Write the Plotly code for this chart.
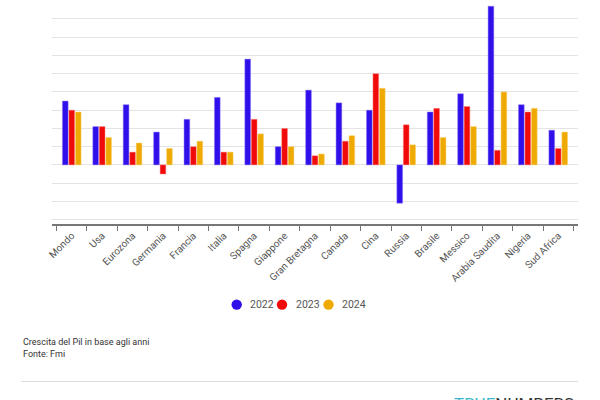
import plotly.graph_objects as go

categories = ["Mondo", "Usa", "Eurozona", "Germania", "Francia", "Italia", "Spagna",
              "Giappone", "Gran Bretagna", "Canada", "Cina", "Russia", "Brasile",
              "Messico", "Arabia Saudita", "Nigeria", "Sud Africa"]
g2022 = [3.5, 2.1, 3.3, 1.8, 2.5, 3.7, 5.8, 1.0, 4.1, 3.4, 3.0, -2.1, 2.9, 3.9, 8.7, 3.3, 1.9]
g2023 = [3.0, 2.1, 0.7, -0.5, 1.0, 0.7, 2.5, 2.0, 0.5, 1.3, 5.0, 2.2, 3.1, 3.2, 0.8, 2.9, 0.9]
g2024 = [2.9, 1.5, 1.2, 0.9, 1.3, 0.7, 1.7, 1.0, 0.6, 1.6, 4.2, 1.1, 1.5, 2.1, 4.0, 3.1, 1.8]
series_names = ["2022", "2023", "2024"]
colors = ["#2F0FEA", "#F00A0A", "#EEAA00"]
line_colors = ["rgba(140,120,250,0.6)", "rgba(250,130,130,0.6)", "rgba(250,210,120,0.6)"]

# plot area in pixels: x 52..578, y 0..224.3
PL, PR, PT, PB = 52, 578, 0, 224.3
def px(x):
    return (x - PL) / (PR - PL)
def py(y):
    return (PB - y) / (PB - PT)

fig = go.Figure()
for name, vals, c, lc in zip(series_names, [g2022, g2023, g2024], colors, line_colors):
    fig.add_trace(go.Bar(x=categories, y=vals, name=name,
                         marker=dict(color=c, line=dict(color=lc, width=0.8)), showlegend=False))

fig.update_layout(
    width=600, height=400,
    margin=dict(l=PL, r=600 - PR, t=PT, b=400 - PB, autoexpand=False),
    plot_bgcolor="white", paper_bgcolor="white",
    font=dict(family="Roboto", color="#555555", size=10),
    barmode="group", bargap=0.36, bargroupgap=0.12,
    showlegend=False,
    xaxis=dict(range=[-0.65, 16.65], tickangle=-45, tickson="boundaries", ticks="outside",
               ticklen=5, tickcolor="#777777", tickwidth=1, showline=True, linecolor="#777777",
               linewidth=2, showgrid=False, automargin=False, tickfont=dict(size=10, color="#555555")),
    yaxis=dict(range=[-3.24, 9.04], dtick=1, showgrid=True, gridcolor="#e4e4e4", gridwidth=1,
               zeroline=True, zerolinecolor="#e4e4e4", zerolinewidth=1, showticklabels=False,
               ticks="", automargin=False),
)

# legend: circle + label per series
marker_x = [236.7, 282, 328.5]
for name, c, mx in zip(series_names, colors, marker_x):
    fig.add_shape(type="circle", xref="paper", yref="paper", xsizemode="pixel", ysizemode="pixel",
                  xanchor=px(mx), yanchor=py(305), x0=-5.2, x1=5.2, y0=-5.2, y1=5.2,
                  fillcolor=c, line=dict(width=0))
    fig.add_annotation(text=name, xref="paper", yref="paper", x=px(mx + 11.5), y=py(305),
                       xanchor="left", yanchor="middle", showarrow=False,
                       font=dict(size=10.5, color="#555555"))

fig.add_annotation(text="Crescita del Pil in base agli anni<br>Fonte: Fmi", xref="paper", yref="paper",
                   x=px(21), y=py(335), xanchor="left", yanchor="top", align="left", showarrow=False,
                   font=dict(size=9, color="#333333"))
fig.add_shape(type="line", xref="paper", yref="paper", x0=px(21), x1=px(578), y0=py(382), y1=py(382),
              line=dict(color="#dddddd", width=1))
fig.add_annotation(text="<span style='color:#3DB8C8'>TRUE</span><span style='color:#333333'>NUMBERS</span>",
                   xref="paper", yref="paper", x=px(576), y=py(393), xanchor="right", yanchor="top",
                   showarrow=False, font=dict(size=17, family="Roboto"))

fig.write_html("out.html", config={"displayModeBar": False},
               post_script="document.body.style.margin='0px';")
